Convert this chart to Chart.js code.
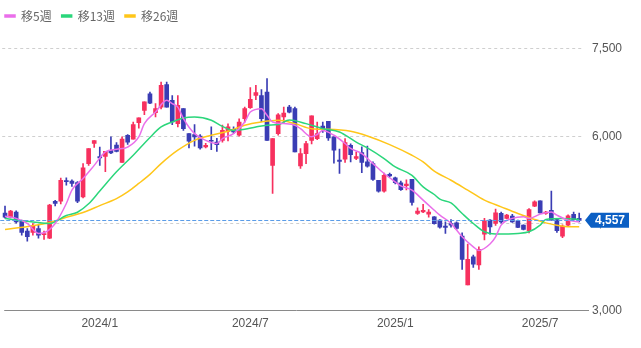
<!DOCTYPE html>
<html>
<head>
<meta charset="utf-8">
<script src="https://cdn.jsdelivr.net/npm/chart.js@4.4.1/dist/chart.umd.min.js"></script>
<style>
  html, body { margin: 0; padding: 0; background: #ffffff; }
</style>
</head>
<body>
<canvas id="stockChart" width="641" height="348"></canvas>
<script>

// WEEKLY CANDLES (open / high / low / close)

const opens = [
  4680, 4611, 4700, 4543, 4371, 4350, 4417, 4310, 4250, 4885,
  4885, 5240, 5230, 5205, 4960, 5530, 5875, 5650, 5655, 5760,
  5850, 5550, 6015, 5950, 6235, 6445, 6730, 6406, 6500, 6886,
  6617, 6217, 6474, 6045, 6030, 6005, 5815, 5930, 5900, 5930,
  6085, 6120, 6017, 6300, 6490, 6700, 6700, 6760, 5500, 6045,
  6330, 6500, 6474, 5490, 5703, 5930, 5960, 6175, 6257, 5990,
  5590, 5605, 5845, 5620, 5720, 5560, 5530, 5245, 5057, 5345,
  5285, 5200, 5150, 5260, 4675, 4700, 4662, 4617, 4560, 4457,
  4503, 4513, 4285, 3446, 3930, 3790, 4320, 4560, 4503, 4675,
  4590, 4628, 4548, 4474, 4377, 4800, 4890, 4675, 4730, 4570,
  4285, 4474, 4660, 4590
];

const highs = [
  4800, 4730, 4720, 4560, 4417, 4500, 4480, 4370, 4830, 4900,
  5280, 5285, 5250, 5220, 5530, 5790, 5925, 5815, 5740, 5990,
  5890, 5990, 6030, 6245, 6315, 6590, 6760, 6560, 6930, 6930,
  6700, 6700, 6474, 6045, 6200, 6030, 5880, 6160, 5965, 6190,
  6215, 6160, 6300, 6500, 6835, 6875, 6800, 6990, 5960, 6390,
  6500, 6530, 6500, 5790, 5915, 6350, 6245, 6245, 6257, 5990,
  5780, 5960, 5870, 5730, 5820, 5830, 5560, 5245, 5370, 5370,
  5300, 5230, 5250, 5260, 4770, 4830, 4740, 4620, 4570, 4530,
  4570, 4530, 4340, 4150, 3960, 4100, 4590, 4570, 4750, 4700,
  4660, 4660, 4560, 4480, 4760, 4890, 4890, 4710, 5060, 4590,
  4480, 4650, 4700, 4680
];

const lows = [
  4594, 4600, 4510, 4300, 4200, 4300, 4250, 4230, 4240, 4805,
  4840, 5160, 5140, 4860, 4940, 5500, 5810, 5500, 5390, 5700,
  5730, 5550, 5860, 5950, 6140, 6370, 6560, 6330, 6470, 6500,
  6200, 6160, 6100, 5800, 5830, 5780, 5800, 5770, 5740, 5900,
  5920, 6050, 6000, 6240, 6480, 6630, 6250, 5930, 5017, 6020,
  6230, 6400, 5730, 5450, 5530, 5870, 5940, 6065, 5930, 5540,
  5360, 5550, 5560, 5600, 5375, 5470, 5240, 5040, 5040, 5300,
  5180, 5070, 5080, 4817, 4660, 4690, 4610, 4490, 4420, 4330,
  4440, 4400, 3715, 3446, 3750, 3715, 4220, 4320, 4470, 4510,
  4580, 4520, 4430, 4390, 4340, 4790, 4680, 4660, 4560, 4350,
  4260, 4450, 4560, 4530
];

const closes = [
  4611, 4714, 4530, 4350, 4274, 4462, 4303, 4325, 4817, 4846,
  5245, 5220, 5190, 4885, 5457, 5790, 5925, 5630, 5740, 5715,
  5740, 5950, 5900, 6200, 6315, 6590, 6570, 6474, 6874, 6500,
  6245, 6530, 6130, 5914, 5990, 5800, 5845, 5915, 5855, 6100,
  6160, 6075, 6245, 6474, 6634, 6750, 6300, 5930, 5960, 6370,
  6400, 6415, 5730, 5703, 5875, 6350, 6045, 6130, 5970, 5760,
  5570, 5890, 5685, 5650, 5550, 5485, 5260, 5057, 5330, 5320,
  5205, 5085, 5180, 4863, 4715, 4730, 4700, 4500, 4440, 4435,
  4474, 4417, 3886, 3886, 3806, 4057, 4548, 4445, 4685, 4530,
  4645, 4530, 4435, 4400, 4743, 4875, 4685, 4700, 4560, 4377,
  4457, 4635, 4570, 4557
];



// MOVING AVERAGES ([week index, value])

const ma5 = [
  [0, 4628], [2, 4590], [4, 4503], [6, 4332], [7, 4343], [9, 4503],
  [11, 4846], [12, 5075], [14, 5275], [16, 5500], [18, 5730], [20, 5777],
  [22, 5815], [24, 5990], [25, 6217], [27, 6416], [29, 6617], [30, 6560],
  [31, 6500], [32, 6303], [34, 6045], [36, 5930], [38, 5875], [39, 5960],
  [41, 6045], [43, 6245], [44, 6416], [46, 6474], [47, 6360], [48, 6245],
  [50, 6217], [52, 6190], [53, 6130], [55, 5990], [56, 6030], [57, 6100],
  [59, 6017], [61, 5875], [62, 5790], [64, 5703], [66, 5530], [68, 5360],
  [70, 5216], [71, 5148], [73, 5075], [75, 4903], [77, 4730], [78, 4645],
  [80, 4503], [82, 4274], [84, 4102], [85, 4040], [87, 4150], [88, 4274],
  [89, 4474], [91, 4590], [93, 4617], [94, 4590], [96, 4663], [98, 4700],
  [99, 4645], [101, 4560], [103, 4530]
];

const ma13 = [
  [0, 4590], [3, 4548], [5, 4530], [8, 4503], [11, 4640], [13, 4695],
  [15, 4840], [17, 5060], [20, 5390], [23, 5674], [26, 5980], [28, 6160],
  [30, 6245], [32, 6313], [34, 6330], [37, 6274], [39, 6170], [41, 6100],
  [43, 6120], [45, 6160], [47, 6190], [49, 6200], [51, 6280], [54, 6217],
  [57, 6130], [60, 6074], [63, 5900], [65, 5800], [68, 5617], [70, 5473],
  [73, 5330], [75, 5130], [77, 5000], [78, 4920], [80, 4856], [82, 4675],
  [84, 4503], [86, 4360], [88, 4320], [92, 4332], [94, 4360], [96, 4474],
  [97, 4572], [100, 4590], [103, 4572]
];

const ma26 = [
  [0, 4400], [5, 4465], [8, 4520], [11, 4610], [14, 4690], [17, 4810],
  [20, 4930], [22, 5045], [24, 5190], [26, 5345], [28, 5530], [31, 5760],
  [34, 5930], [37, 6017], [40, 6085], [43, 6190], [46, 6245], [49, 6274],
  [52, 6217], [55, 6130], [58, 6120], [62, 6085], [65, 6005], [69, 5857],
  [73, 5674], [75, 5560], [77, 5400], [80, 5245], [83, 5075], [86, 4903],
  [89, 4788], [92, 4675], [95, 4572], [97, 4513], [99, 4474], [101, 4445],
  [103, 4445]
];



// AXIS LABELS

const xTickWeeks = [17, 44, 70, 96];
const xTickLabels = ["2024/1", "2024/7", "2025/1", "2025/7"];

const yTickValues = [3000, 4500, 6000, 7500];

const maLabels = ["移5週", "移13週", "移26週"];



// COLOURS

const upColor = "#f7305e";
const downColor = "#3a3db4";

const weeks = opens.map((_, i) => i);

const candleColors = opens.map((o, i) =>
  closes[i] >= o ? upColor : downColor
);

const lastPrice = closes[closes.length - 1];



// PRICE LINE + AXIS LINE PLUGIN

const pricePlugin = {

  id: "priceTag",

  afterLayout(chart) {
    // pull the legend a little further left
    chart.legend.left = -5;
  },

  afterDatasetsDraw(chart) {

    const ctx = chart.ctx;
    const area = chart.chartArea;
    const yScale = chart.scales.y;

    // bottom axis line
    const yBase = yScale.getPixelForValue(3000);

    ctx.save();
    ctx.strokeStyle = "#8a8a8a";
    ctx.lineWidth = 1;
    ctx.beginPath();
    ctx.moveTo(area.left + 2, Math.round(yBase) - 0.5);
    ctx.lineTo(area.right + 7, Math.round(yBase) - 0.5);
    ctx.stroke();

    // current price line
    const y = yScale.getPixelForValue(lastPrice);

    ctx.strokeStyle = "#5b9de8";
    ctx.setLineDash([4, 2]);
    ctx.beginPath();
    ctx.moveTo(area.left - 2, Math.round(y) + 0.5);
    ctx.lineTo(area.right, Math.round(y) + 0.5);
    ctx.stroke();
    ctx.setLineDash([]);

    // price tag
    const tip = area.right + 3;
    const left = tip + 6;
    const right = left + 38;
    const h = 7.5;

    ctx.fillStyle = "#0b5fc4";
    ctx.beginPath();
    ctx.moveTo(tip, y);
    ctx.lineTo(left, y - h);
    ctx.lineTo(right, y - h);
    ctx.lineTo(right, y + h);
    ctx.lineTo(left, y + h);
    ctx.closePath();
    ctx.fill();

    ctx.fillStyle = "#ffffff";
    ctx.font = "bold 12px 'Liberation Sans', Arial, sans-serif";
    ctx.textAlign = "center";
    ctx.textBaseline = "middle";
    ctx.fillText(lastPrice.toLocaleString("en-US"), (left + right) / 2, y + 0.5);

    ctx.restore();

  }

};



// CHART

const toPoints = pairs => pairs.map(p => ({ x: p[0], y: p[1] }));

const lineSet = (label, pairs, color) => ({
  type: "line",
  label: label,
  data: toPoints(pairs),
  borderColor: color,
  backgroundColor: color,
  borderWidth: 1.5,
  pointRadius: 0,
  cubicInterpolationMode: "monotone",
  order: 0
});

new Chart(document.getElementById("stockChart"), {

  type: "bar",

  data: {

    labels: weeks,

    datasets: [

      lineSet(maLabels[0], ma5, "#ea6fea"),

      lineSet(maLabels[1], ma13, "#2bd67b"),

      lineSet(maLabels[2], ma26, "#ffc61a"),

      {
        label: "body",
        data: opens.map((o, i) => [o, closes[i]]),
        backgroundColor: candleColors,
        barThickness: 4,
        minBarLength: 1,
        grouped: false,
        order: 1
      },

      {
        label: "wick",
        data: lows.map((l, i) => [l, highs[i]]),
        backgroundColor: candleColors,
        barThickness: 1,
        grouped: false,
        order: 2
      }

    ]
  },

  options: {

    responsive: false,

    animation: false,

    events: [],

    layout: {
      padding: { left: 2, right: 0, bottom: 0 }
    },

    plugins: {

      tooltip: { enabled: false },

      legend: {
        position: "top",
        align: "start",
        labels: {
          boxWidth: 10,
          boxHeight: 2,
          padding: 10,
          color: "#666666",
          font: { size: 12, family: "'Noto Sans CJK JP', sans-serif" },
          filter: item => item.datasetIndex < 3
        }
      }

    },

    scales: {

      x: {
        offset: true,
        afterFit: scale => { scale.height = 37; },
        grid: { display: false, drawTicks: false },
        border: { display: false },
        ticks: {
          autoSkip: false,
          maxRotation: 0,
          padding: 5,
          color: "#555555",
          font: { size: 12, family: "'Liberation Sans', Arial, sans-serif" },
          callback: (value, index) => {
            const k = xTickWeeks.indexOf(index);
            return k >= 0 ? xTickLabels[k] : "";
          }
        }
      },

      y: {
        position: "right",
        min: 3000,
        max: 7790,
        afterFit: scale => { scale.width = 59; },
        afterBuildTicks: scale => {
          scale.ticks = yTickValues.map(v => ({ value: v }));
        },
        grid: {
          drawTicks: false,
          color: c => c.tick && c.tick.value === 3000 ? "rgba(0,0,0,0)" : "#cfcfcf"
        },
        border: { display: false, dash: [3, 3] },
        ticks: {
          padding: 10,
          color: "#555555",
          font: { size: 12, family: "'Liberation Sans', Arial, sans-serif" },
          callback: v => v.toLocaleString("en-US")
        }
      }

    }

  },

  plugins: [pricePlugin]

});

</script>
</body>
</html>
